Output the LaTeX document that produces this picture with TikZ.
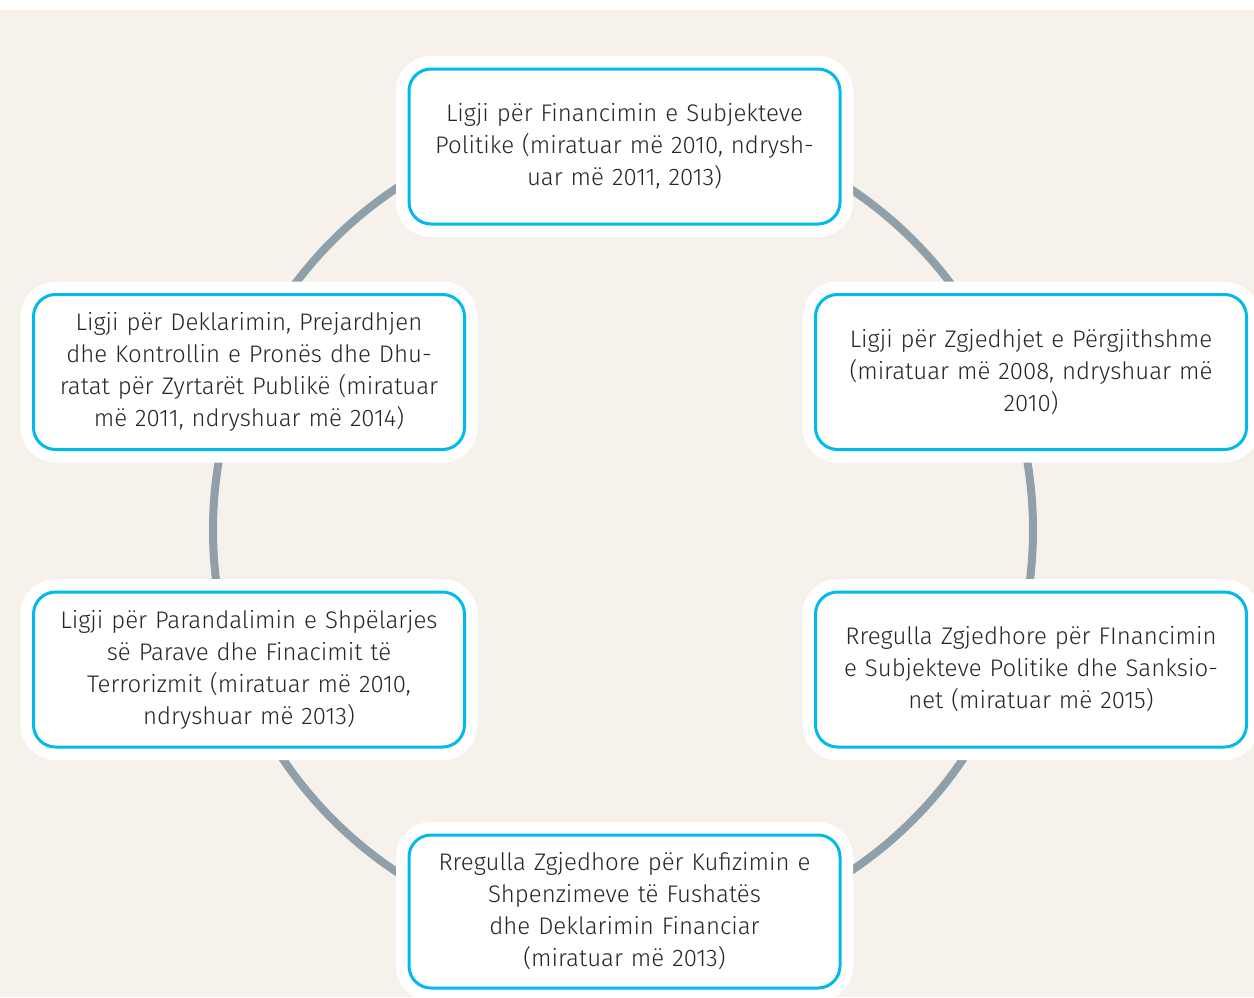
\documentclass[tikz,border=0pt]{standalone}
\usepackage{fontspec}
\setmainfont{Fira Sans}[UprightFont={* Light}]
\definecolor{bg}{HTML}{F6F2EB}
\definecolor{ring}{HTML}{8FA0AA}
\definecolor{boxblue}{HTML}{00B9EE}
\definecolor{txt}{HTML}{262626}
\tikzset{
  lawbox/.style={draw=boxblue, line width=3pt, fill=white, rounded corners=22pt,
    preaction={draw=white, line width=26pt, rounded corners=22pt},
    minimum width=431pt, minimum height=155pt, text width=420pt, align=center,
    inner sep=0pt, text=txt, font=\fontsize{24}{32}\selectfont},
}
\begin{document}
\begin{tikzpicture}[x=1pt,y=-1pt]
\useasboundingbox (0,0) rectangle (1254,997);
\fill[white] (0,0) rectangle (1254,997);
\fill[bg] (0,10) rectangle (1254,997);
\coordinate (c) at (623,530);
\draw[ring, line width=8pt] (c) circle[radius=410pt];
\begin{scope}
\clip (0,10) rectangle (1254,997);
\node[lawbox] (top) at (624.5,146.5) {Ligji për Financimin e Subjekteve\\Politike (miratuar më 2010, ndrysh-\\uar më 2011, 2013)};
\node[lawbox] (rt) at (1031,372) {Ligji për Zgjedhjet e Përgjithshme\\(miratuar më 2008, ndryshuar më\\2010)};
\node[lawbox] (rb) at (1031,669.5) {Rregulla Zgjedhore për FInancimin\\e Subjekteve Politike dhe Sanksio-\\net (miratuar më 2015)};
\node[lawbox] (lt) at (249,372) {Ligji për Deklarimin, Prejardhjen\\dhe Kontrollin e Pronës dhe Dhu-\\ratat për Zyrtarët Publikë (miratuar\\më 2011, ndryshuar më  2014)};
\node[lawbox] (lb) at (249,669.5) {Ligji për Parandalimin e Shpëlarjes\\së Parave dhe Finacimit të\\Terrorizmit (miratuar më 2010,\\ndryshuar më 2013)};
\node[lawbox, minimum height=153pt] (bot) at (624.5,911.5) {Rregulla Zgjedhore për Kufizimin e\\Shpenzimeve të Fushatës\\dhe Deklarimin Financiar\\(miratuar më 2013)};
\end{scope}
\end{tikzpicture}
\end{document}
